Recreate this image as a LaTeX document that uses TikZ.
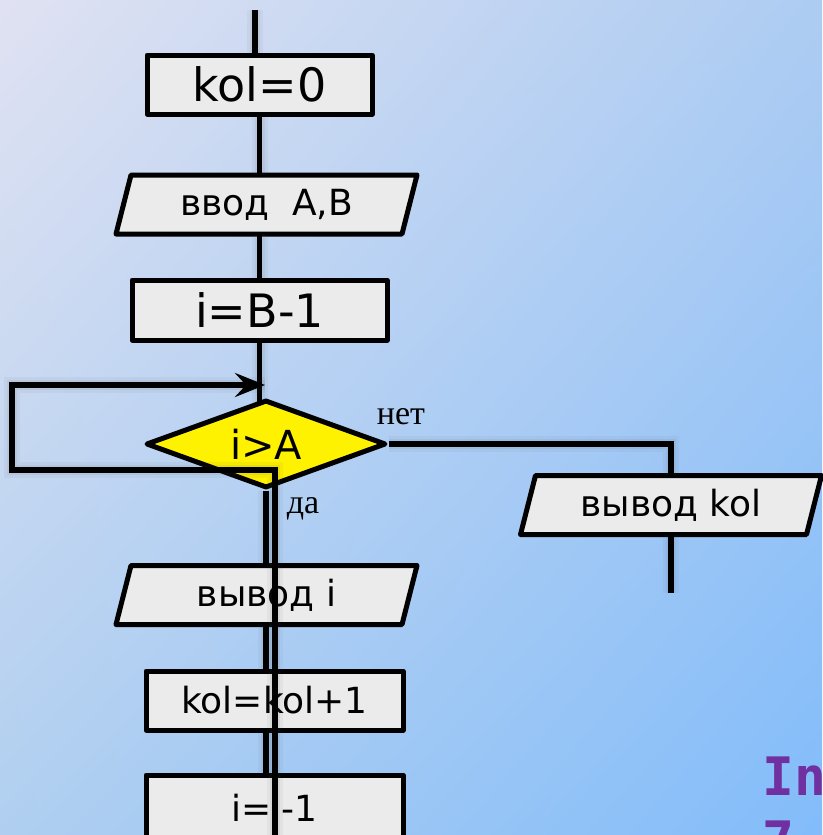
\documentclass[tikz,border=0pt]{standalone}
\usepackage{fontspec}
\setmainfont{DejaVu Sans}
\newfontfamily\labelfont{Liberation Serif}
\newfontfamily\codefont{DejaVu Sans Mono}
\usetikzlibrary{shapes.geometric,arrows.meta,shadings}

\definecolor{bgUL}{HTML}{E0E2F2}
\definecolor{bgUR}{HTML}{ADCCF2}
\definecolor{bgLL}{HTML}{B0CFF0}
\definecolor{bgLR}{HTML}{82BCFA}
\definecolor{boxgray}{HTML}{EBEBEB}
\definecolor{titlepurple}{HTML}{7030A0}

% input/output block: parallelogram drawn first, then its named text node
\newcommand\iobox[4]{%
  \path[frame] (#2-135.5,#3-29.5) -- (#2+150.5,#3-29.5) -- (#2+135.5,#3+29.5) -- (#2-150.5,#3+29.5) -- cycle;
  \node[iotext] (#1) at (#2,#3) {#4};%
}

\begin{document}
\begin{tikzpicture}[x=1pt,y=-1pt,
  frame/.style={draw=black, line width=5pt, line join=round, fill=boxgray},
  proc/.style={frame, rectangle, inner sep=0pt},
  iotext/.style={rectangle, inner sep=0pt, minimum width=286pt, minimum height=59pt,
    font=\fontsize{36}{40}\selectfont},
  bigtxt/.style={font=\fontsize{46}{50}\selectfont},
  midtxt/.style={font=\fontsize{36}{40}\selectfont},
  cond/.style={diamond, draw=black, line width=5pt, line join=round, fill=yellow,
    inner sep=0pt, aspect=2.7, minimum width=240pt, minimum height=88pt,
    font=\fontsize{40}{44}\selectfont},
  flow/.style={draw=black, line width=5.5pt, line join=miter,
    preaction={draw, black!70, opacity=0.05, line width=16pt, arrows=-},
    preaction={draw, black!70, opacity=0.07, line width=10pt, arrows=-}},
  lab/.style={font=\labelfont\fontsize{34}{36}\selectfont, inner sep=0pt},
  title/.style={font=\codefont\bfseries\fontsize{53}{60}\selectfont, text=titlepurple,
    inner sep=0pt, anchor=base west}]

\useasboundingbox (0,0) rectangle (822,835);
\shade[upper left=bgUL, upper right=bgUR, lower left=bgLL, lower right=bgLR]
  (0,0) rectangle (822,835);

% blocks
\node[proc, bigtxt, minimum width=225pt, minimum height=59pt] (k0) at (259.5,84.5) {kol=0};
\iobox{vab}{266.5}{204.5}{ввод\ \ A,B}
\node[proc, bigtxt, minimum width=255pt, minimum height=60pt] (bm1) at (259.5,310) {i=B-1};
\iobox{vi}{266.5}{595}{вывод i}
\node[proc, midtxt, minimum width=257pt, minimum height=59pt] (kk) at (274.5,700.5) {kol=kol+1};
\node[proc, midtxt, minimum width=257pt, minimum height=66pt] (ii) at (274.5,808) {i=i-1};
\iobox{vk}{671}{505}{вывод kol}

% straight flow
\coordinate (start) at (255,10);
\coordinate (kend) at (671,593);
\draw[flow] (start) -- (start |- k0.north);
\draw[flow] (k0.south) -- (k0.south |- vab.north);
\draw[flow] (k0.south |- vab.south) -- (k0.south |- bm1.north);
\draw[flow] (bm1.south) -- ++(0,60);

% decision
\node[cond] (dec) at (266,444) {i>A};
\draw[flow] (dec.east) -| (vk.north);
\draw[flow] (vk.south) -- (kend);
\draw[flow] (dec.south) -- (dec.south |- vi.north);
\draw[flow] (dec.south |- vi.south) -- (dec.south |- kk.north);
\draw[flow] (dec.south |- kk.south) -- (dec.south |- ii.north);

\node[lab] (no) at (401,417) {нет};
\node[lab] (yes) at (303,509) {да};

% loop back to the condition
\coordinate (lb) at (275,850);
\coordinate (lc) at (12,470);
\coordinate (la) at (265,385);
\draw[flow, -{Stealth[length=30pt,width=24pt,inset=11pt]}] (lb) |- (lc) |- (la);

% heading in the corner
\node[title] (h1) at (762,795) {In};
\node[title] (h2) at (762,859) {7};
\end{tikzpicture}
\end{document}
